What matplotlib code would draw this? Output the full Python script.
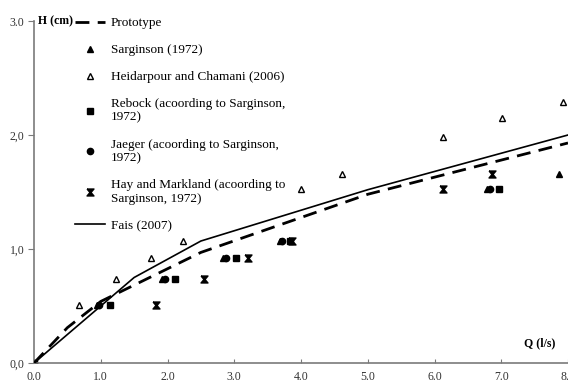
import matplotlib
matplotlib.use('Agg')
import matplotlib.pyplot as plt

plt.rcParams['font.family'] = ['Liberation Serif', 'DejaVu Serif']

# Discharge Q (l/s) vs. head H (cm)
proto_q = [0.0, 0.5, 1.0, 2.5, 5.0, 6.0, 8.0]
proto_h = [0.0, 0.31, 0.54, 0.97, 1.48, 1.63, 1.93]

fais_q = [0.0, 1.0, 1.5, 2.5, 5.0, 6.0, 8.0]
fais_h = [0.0, 0.5, 0.75, 1.07, 1.52, 1.68, 2.0]

sarg_q = [0.0, 0.95, 1.92, 2.83, 3.68, 6.78, 7.86]
sarg_h = [0.0, 0.51, 0.74, 0.92, 1.07, 1.53, 1.66]

heid_q = [0.67, 1.23, 1.76, 2.23, 4.0, 4.61, 6.12, 7.01, 7.92]
heid_h = [0.51, 0.74, 0.92, 1.07, 1.53, 1.66, 1.98, 2.15, 2.29]

rebock_q = [0.0, 1.14, 2.11, 3.02, 3.83, 6.97]
rebock_h = [0.0, 0.51, 0.74, 0.92, 1.07, 1.53]

jaeger_q = [0.0, 0.98, 1.96, 2.87, 3.72, 6.83]
jaeger_h = [0.0, 0.51, 0.74, 0.92, 1.07, 1.53]

hay_q = [1.83, 2.54, 3.21, 3.86, 6.12, 6.86]
hay_h = [0.51, 0.74, 0.92, 1.07, 1.53, 1.66]

x_ticks = [0, 1, 2, 3, 4, 5, 6, 7, 8]
x_labels = ['0.0', '1.0', '2.0', '3.0', '4.0', '5.0', '6.0', '7.0', '8.0']
y_ticks = [0, 1, 2, 3]
y_labels = ['0,0', '1,0', '2,0', '3.0']

# hourglass marker for Hay and Markland
hourglass = [(-1, 1), (1, 1), (0.15, 0), (1, -1), (-1, -1), (-0.15, 0), (-1, 1)]

fig = plt.figure(figsize=(5.68, 3.85), dpi=100)
ax = fig.add_axes([34 / 568, 22 / 385, 1 - 34 / 568, 342 / 385])

ax.plot(proto_q, proto_h, color='black', lw=2.0, dashes=(5, 3), label='Prototype', zorder=3)
ax.plot(sarg_q, sarg_h, ls='none', marker='^', ms=4.5, color='black', label='Sarginson (1972)')
ax.plot(heid_q, heid_h, ls='none', marker='^', ms=5, mfc='white', mec='black', mew=1.0,
        label='Heidarpour and Chamani (2006)')
ax.plot(rebock_q, rebock_h, ls='none', marker='s', ms=4, color='black',
        label='Rebock (acoording to Sarginson,\n1972)')
ax.plot(jaeger_q, jaeger_h, ls='none', marker='o', ms=4.5, color='black',
        label='Jaeger (acoording to Sarginson,\n1972)')
ax.plot(hay_q, hay_h, ls='none', marker=hourglass, ms=5, color='black',
        label='Hay and Markland (acoording to\nSarginson, 1972)')
ax.plot(fais_q, fais_h, color='black', lw=1.2, label='Fais (2007)', zorder=3)

ax.set_xlim(0, 534 / 67.3)
ax.set_ylim(0, 3.0)
ax.set_xticks(x_ticks)
ax.set_xticklabels(x_labels)
ax.set_yticks(y_ticks)
ax.set_yticklabels(y_labels)

for side in ['top', 'right']:
    ax.spines[side].set_visible(False)
for side in ['left', 'bottom']:
    ax.spines[side].set_color('#7a7a7a')
    ax.spines[side].set_linewidth(1.2)

ax.tick_params(axis='x', direction='in', length=3, pad=6, colors='#7a7a7a',
               labelcolor='#333333', labelsize=8.5)
ax.tick_params(axis='y', direction='out', length=4, pad=3, colors='#7a7a7a',
               labelcolor='#333333', labelsize=8.5)

ax.text(0.008, 1.0, 'H (cm)', transform=ax.transAxes, fontsize=8.5,
        fontweight='bold', ha='left', va='center')
ax.text(506 / 534, 20 / 342, 'Q (l/s)', transform=ax.transAxes, fontsize=8.5,
        fontweight='bold', ha='center', va='center')

ax.legend(loc='upper left', bbox_to_anchor=(0.076, 1.012), frameon=False,
          fontsize=9.5, handlelength=2.3, handletextpad=0.45, labelspacing=1.12,
          borderpad=0, borderaxespad=0)

fig.savefig('out.png', dpi=100)
